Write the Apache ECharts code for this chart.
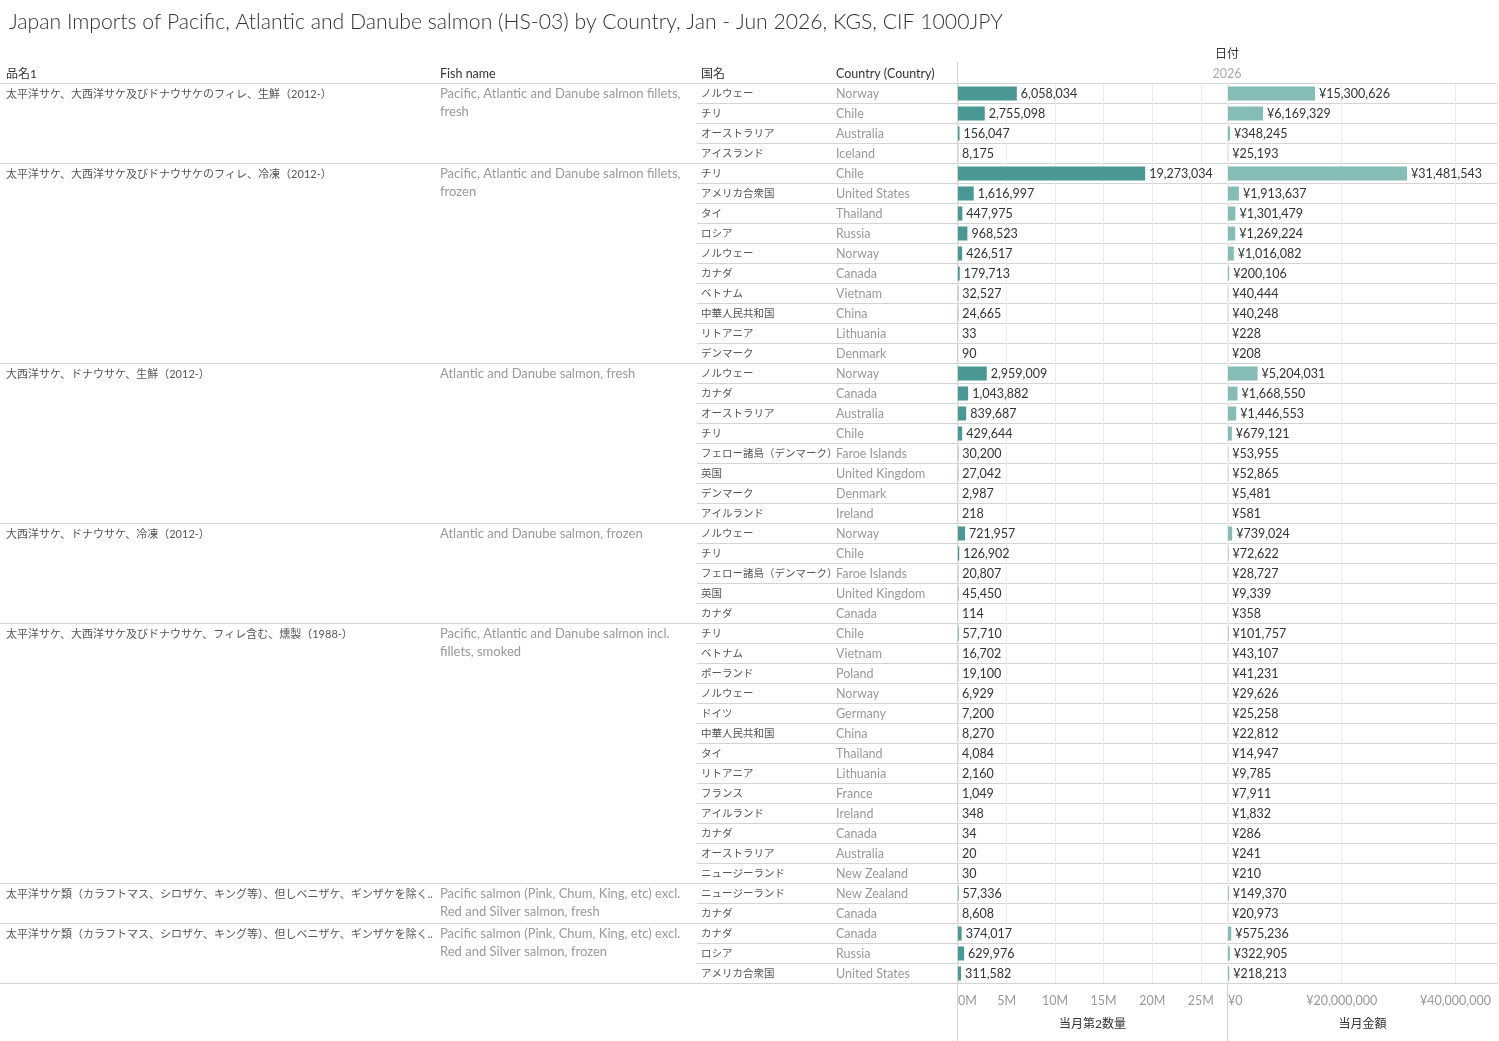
<!DOCTYPE html>
<html>
<head>
<meta charset="utf-8">
<script src="https://cdn.jsdelivr.net/npm/echarts@6/dist/echarts.min.js"></script>
<style>
  html, body { margin: 0; padding: 0; background: #fff; }
  #chart { width: 1499px; height: 1041px; }
</style>
</head>
<body>
<div id="chart"></div>
<script>
// 品目ごとのグループ
var groupJa = [
  '太平洋サケ、大西洋サケ及びドナウサケのフィレ、生鮮（2012-）',
  '太平洋サケ、大西洋サケ及びドナウサケのフィレ、冷凍（2012-）',
  '大西洋サケ、ドナウサケ、生鮮（2012-）',
  '大西洋サケ、ドナウサケ、冷凍（2012-）',
  '太平洋サケ、大西洋サケ及びドナウサケ、フィレ含む、燻製（1988-）',
  '太平洋サケ類（カラフトマス、シロザケ、キング等）、但しベニザケ、ギンザケを除く、生鮮（2012-）',
  '太平洋サケ類（カラフトマス、シロザケ、キング等）、但しベニザケ、ギンザケを除く、冷凍（2012-）'
];
var groupEn = [
  'Pacific, Atlantic and Danube salmon fillets, fresh',
  'Pacific, Atlantic and Danube salmon fillets, frozen',
  'Atlantic and Danube salmon, fresh',
  'Atlantic and Danube salmon, frozen',
  'Pacific, Atlantic and Danube salmon incl. fillets, smoked',
  'Pacific salmon (Pink, Chum, King, etc) excl. Red and Silver salmon, fresh',
  'Pacific salmon (Pink, Chum, King, etc) excl. Red and Silver salmon, frozen'
];
var groupSize = [4, 10, 8, 5, 13, 2, 3];

// 国名（行）
var rowJa = [
  'ノルウェー', 'チリ', 'オーストラリア', 'アイスランド',
  'チリ', 'アメリカ合衆国', 'タイ', 'ロシア', 'ノルウェー', 'カナダ', 'ベトナム', '中華人民共和国', 'リトアニア', 'デンマーク',
  'ノルウェー', 'カナダ', 'オーストラリア', 'チリ', 'フェロー諸島（デンマーク）', '英国', 'デンマーク', 'アイルランド',
  'ノルウェー', 'チリ', 'フェロー諸島（デンマーク）', '英国', 'カナダ',
  'チリ', 'ベトナム', 'ポーランド', 'ノルウェー', 'ドイツ', '中華人民共和国', 'タイ', 'リトアニア', 'フランス', 'アイルランド', 'カナダ', 'オーストラリア', 'ニュージーランド',
  'ニュージーランド', 'カナダ',
  'カナダ', 'ロシア', 'アメリカ合衆国'
];
var rowEn = [
  'Norway', 'Chile', 'Australia', 'Iceland',
  'Chile', 'United States', 'Thailand', 'Russia', 'Norway', 'Canada', 'Vietnam', 'China', 'Lithuania', 'Denmark',
  'Norway', 'Canada', 'Australia', 'Chile', 'Faroe Islands', 'United Kingdom', 'Denmark', 'Ireland',
  'Norway', 'Chile', 'Faroe Islands', 'United Kingdom', 'Canada',
  'Chile', 'Vietnam', 'Poland', 'Norway', 'Germany', 'China', 'Thailand', 'Lithuania', 'France', 'Ireland', 'Canada', 'Australia', 'New Zealand',
  'New Zealand', 'Canada',
  'Canada', 'Russia', 'United States'
];

// 当月第2数量 (KGS)
var qty = [
  6058034, 2755098, 156047, 8175,
  19273034, 1616997, 447975, 968523, 426517, 179713, 32527, 24665, 33, 90,
  2959009, 1043882, 839687, 429644, 30200, 27042, 2987, 218,
  721957, 126902, 20807, 45450, 114,
  57710, 16702, 19100, 6929, 7200, 8270, 4084, 2160, 1049, 348, 34, 20, 30,
  57336, 8608,
  374017, 629976, 311582
];
// 当月金額 (1000JPY)
var amt = [
  15300626, 6169329, 348245, 25193,
  31481543, 1913637, 1301479, 1269224, 1016082, 200106, 40444, 40248, 228, 208,
  5204031, 1668550, 1446553, 679121, 53955, 52865, 5481, 581,
  739024, 72622, 28727, 9339, 358,
  101757, 43107, 41231, 29626, 25258, 22812, 14947, 9785, 7911, 1832, 286, 241, 210,
  149370, 20973,
  575236, 322905, 218213
];

var FONT = 'Lato, "Noto Sans CJK JP", sans-serif';
var LINE = '#d4d4d4';

// グループ開始行
var groupStart = [];
var acc = 0;
groupSize.forEach(function (n) { groupStart.push(acc); acc += n; });

var rowIdx = rowJa.map(function (d, i) { return i; });

function fmt(v) { return v.toLocaleString('en-US'); }

var chart = echarts.init(document.getElementById('chart'));

var TOP = 83.5, H = 900;

var option = {
  animation: false,
  title: {
    text: 'Japan Imports of Pacific, Atlantic and Danube salmon (HS-03) by Country, Jan - Jun 2026, KGS, CIF 1000JPY',
    left: 4, top: 7,
    textStyle: { fontFamily: FONT, fontSize: 21.2, fontWeight: 300, color: '#333' }
  },
  grid: [
    { left: 958, width: 269, top: TOP, height: H },   // 数量
    { left: 1228, width: 269, top: TOP, height: H },  // 金額
    { left: 0, width: 1497, top: TOP, height: H },    // 品名 / グループ線
    { left: 697, width: 800, top: TOP, height: H },   // 国名 / 行線
    { left: 836, width: 100, top: TOP, height: H }    // Country
  ],
  xAxis: [
    {
      gridIndex: 0, type: 'value', min: 0, max: 27.7e6, interval: 5e6,
      name: '当月第2数量', nameLocation: 'middle', nameGap: 35,
      nameTextStyle: { fontFamily: FONT, fontSize: 12, color: '#333' },
      axisLine: { show: false }, axisTick: { show: false },
      axisLabel: {
        margin: 11, fontFamily: FONT, fontSize: 12.5, color: '#999',
        showMaxLabel: false, alignMinLabel: 'left',
        formatter: function (v) { return (v / 1e6) + 'M'; }
      },
      splitLine: { lineStyle: { color: '#ececec' } }
    },
    {
      gridIndex: 1, type: 'value', min: 0, max: 47.3e6, interval: 20e6,
      name: '当月金額', nameLocation: 'middle', nameGap: 35,
      nameTextStyle: { fontFamily: FONT, fontSize: 12, color: '#333' },
      axisLine: { show: false }, axisTick: { show: false },
      axisLabel: {
        margin: 11, fontFamily: FONT, fontSize: 12.5, color: '#999',
        showMaxLabel: false, alignMinLabel: 'left',
        formatter: function (v) { return '¥' + fmt(v); }
      },
      splitLine: { lineStyle: { color: '#ececec' } }
    },
    {
      gridIndex: 2, type: 'value', min: 0, max: 1,
      axisLine: { show: true, lineStyle: { color: LINE } },
      axisTick: { show: false }, axisLabel: { show: false }, splitLine: { show: false }
    },
    { gridIndex: 3, type: 'value', show: false },
    { gridIndex: 4, type: 'value', show: false }
  ],
  yAxis: [
    { gridIndex: 0, type: 'category', inverse: true, data: rowIdx, show: false },
    { gridIndex: 1, type: 'category', inverse: true, data: rowIdx, show: false },
    {
      gridIndex: 2, type: 'category', inverse: true, data: rowIdx,
      axisLine: { show: false }, axisTick: { show: false }, axisLabel: { show: false },
      splitLine: {
        show: true,
        interval: function (i) { return groupStart.indexOf(i) >= 0; },
        lineStyle: { color: LINE }
      }
    },
    {
      gridIndex: 3, type: 'category', inverse: true, data: rowJa,
      axisLine: { show: false }, axisTick: { show: false },
      axisLabel: {
        interval: 0, align: 'left', margin: -4, padding: [2, 0, 0, 0],
        fontFamily: FONT, fontSize: 10.5, color: '#555'
      },
      splitLine: { show: true, interval: 0, lineStyle: { color: LINE } }
    },
    {
      gridIndex: 4, type: 'category', inverse: true, data: rowEn,
      axisLine: { show: false }, axisTick: { show: false },
      axisLabel: {
        interval: 0, align: 'left', margin: 0,
        fontFamily: FONT, fontSize: 12.5, color: '#999'
      },
      splitLine: { show: false }
    }
  ],
  series: [
    {
      type: 'bar', xAxisIndex: 0, yAxisIndex: 0, data: qty, barWidth: 14,
      itemStyle: { color: '#499894' },
      label: {
        show: true, position: 'right', distance: 4,
        fontFamily: FONT, fontSize: 12.5, color: '#333',
        formatter: function (p) { return fmt(p.value); }
      }
    },
    {
      type: 'bar', xAxisIndex: 1, yAxisIndex: 1, data: amt, barWidth: 14,
      itemStyle: { color: '#86bcb6' },
      label: {
        show: true, position: 'right', distance: 4,
        fontFamily: FONT, fontSize: 12.5, color: '#333',
        formatter: function (p) { return '¥' + fmt(p.value); }
      }
    },
    {
      type: 'custom', xAxisIndex: 2, yAxisIndex: 2, silent: true,
      data: groupStart.map(function (s) { return [0, s]; }),
      encode: { x: 0, y: 1 },
      renderItem: function (params, api) {
        var pt = api.coord([0, api.value(1)]);
        var band = api.size([0, 1])[1];
        var top = pt[1] - band / 2;
        var i = params.dataIndex;
        return {
          type: 'group',
          children: [
            {
              type: 'text',
              style: {
                x: pt[0] + 6, y: top + 5, text: groupJa[i],
                fill: '#555', fontFamily: FONT, fontSize: 11,
                width: 430, overflow: 'truncate', ellipsis: '..',
                verticalAlign: 'top'
              }
            },
            {
              type: 'text',
              style: {
                x: pt[0] + 440, y: top + 1, text: groupEn[i],
                fill: '#999', fontFamily: FONT, fontSize: 13,
                width: 252, overflow: 'break', lineHeight: 18,
                verticalAlign: 'top'
              }
            }
          ]
        };
      }
    }
  ],
  graphic: [
    { type: 'line', shape: { x1: 957.5, y1: 62, x2: 957.5, y2: 1041 }, style: { stroke: LINE } },
    { type: 'line', shape: { x1: 1227.5, y1: 84, x2: 1227.5, y2: 1041 }, style: { stroke: LINE } },
    { type: 'text', x: 1227, y: 54, style: { text: '日付', fill: '#333', fontFamily: FONT, fontSize: 12, textAlign: 'center', textVerticalAlign: 'middle' } },
    { type: 'text', x: 1227, y: 74, style: { text: '2026', fill: '#aaa', fontFamily: FONT, fontSize: 12.5, textAlign: 'center', textVerticalAlign: 'middle' } },
    { type: 'text', x: 6, y: 74, style: { text: '品名1', fill: '#333', fontFamily: FONT, fontSize: 12, textVerticalAlign: 'middle' } },
    { type: 'text', x: 440, y: 74, style: { text: 'Fish name', fill: '#333', fontFamily: FONT, fontSize: 12.5, textVerticalAlign: 'middle' } },
    { type: 'text', x: 701, y: 74, style: { text: '国名', fill: '#333', fontFamily: FONT, fontSize: 12, textVerticalAlign: 'middle' } },
    { type: 'text', x: 836, y: 74, style: { text: 'Country (Country)', fill: '#333', fontFamily: FONT, fontSize: 12.5, textVerticalAlign: 'middle' } }
  ]
};

chart.setOption(option);
</script>
</body>
</html>
